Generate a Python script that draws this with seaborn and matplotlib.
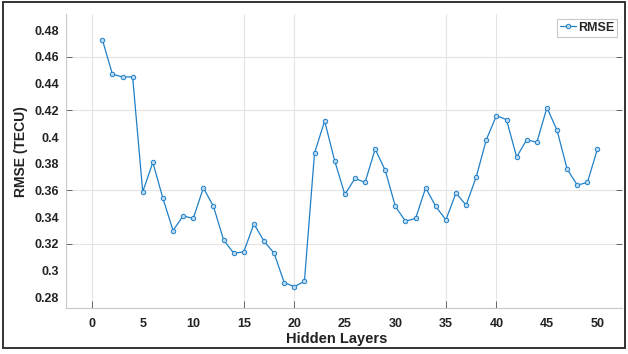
import numpy as np
import pandas as pd
import matplotlib
matplotlib.use("Agg")
import matplotlib.pyplot as plt
import seaborn as sns
from matplotlib.patches import Rectangle
from matplotlib.ticker import FixedLocator

# values
hidden_layers = list(range(1, 51))
rmse = [0.473, 0.447, 0.445, 0.445, 0.359, 0.381, 0.354, 0.330, 0.341, 0.339,
        0.362, 0.348, 0.323, 0.313, 0.314, 0.335, 0.322, 0.313, 0.291, 0.288,
        0.292, 0.388, 0.412, 0.382, 0.357, 0.369, 0.366, 0.391, 0.375, 0.348,
        0.337, 0.339, 0.362, 0.348, 0.338, 0.358, 0.349, 0.370, 0.398, 0.416,
        0.413, 0.385, 0.398, 0.396, 0.422, 0.405, 0.376, 0.364, 0.366, 0.391]
x_ticks = list(range(0, 51, 5))
y_ticks = [0.28, 0.30, 0.32, 0.34, 0.36, 0.38, 0.40, 0.42, 0.44, 0.46, 0.48]
y_tick_labels = ["0.28", "0.3", "0.32", "0.34", "0.36", "0.38", "0.4", "0.42", "0.44", "0.46", "0.48"]
# only some grid lines survive in the reference image
x_grid = [0, 15, 20, 35, 40]
y_grid = [0.32, 0.36, 0.42, 0.46]

df = pd.DataFrame({"Hidden Layers": hidden_layers, "RMSE": rmse})

sns.set_style("white")
plt.rcParams["font.family"] = ["Liberation Sans", "DejaVu Sans"]
plt.rcParams["font.weight"] = "bold"

fig = plt.figure(figsize=(6.28, 3.54), dpi=100)
ax = fig.add_axes([0.105, 0.130, 0.885, 0.830])

blue = "#1f80c8"
sns.lineplot(data=df, x="Hidden Layers", y="RMSE", ax=ax, color=blue, lw=0.9,
             marker="o", markersize=3.2, markerfacecolor="#bcd9ef",
             markeredgecolor=blue, markeredgewidth=0.7, label="RMSE")

ax.set_xlim(-2.6, 52.4)
ax.set_ylim(0.272, 0.492)
ax.set_xticks(x_ticks)
ax.set_yticks(y_ticks)
ax.set_yticklabels(y_tick_labels)
ax.xaxis.remove_overlapping_locs = False
ax.yaxis.remove_overlapping_locs = False
ax.xaxis.set_minor_locator(FixedLocator(x_grid))
ax.yaxis.set_minor_locator(FixedLocator(y_grid))
ax.tick_params(axis="both", which="major", length=0, labelsize=9, colors="#222222")
ax.tick_params(axis="y", which="major", pad=5)
ax.tick_params(axis="x", which="major", pad=7)
ax.tick_params(axis="both", which="minor", length=4, width=0.7, color="#666666",
               direction="in", right=True, top=False, left=True, bottom=True)
ax.tick_params(axis="x", which="minor", length=5)
ax.grid(which="minor", color="#e4e4e4", lw=0.8)
for lab in ax.get_xticklabels() + ax.get_yticklabels():
    lab.set_fontweight("bold")

for side in ["left", "bottom"]:
    ax.spines[side].set_color("#c8c8c8")
    ax.spines[side].set_linewidth(0.8)
ax.spines["top"].set_visible(False)
ax.spines["right"].set_visible(False)

ax.set_xlabel("Hidden Layers", fontsize=10.5, fontweight="bold", color="#222222")
ax.set_ylabel("RMSE (TECU)", fontsize=10, fontweight="bold", color="#222222")
ax.xaxis.set_label_coords(0.487, -0.082)
ax.yaxis.set_label_coords(-0.068, 0.534)

leg = ax.legend(loc="upper right", bbox_to_anchor=(0.992, 0.985), fontsize=9,
                frameon=True, fancybox=False, borderpad=0.25, handlelength=1.3,
                handletextpad=0.15, borderaxespad=0.0)
leg.get_frame().set_edgecolor("#bbbbbb")
leg.get_frame().set_linewidth(0.8)
for t in leg.get_texts():
    t.set_fontweight("bold")

fig.patches.append(Rectangle((0.004, 0.016), 0.992, 0.978, transform=fig.transFigure,
                             fill=False, edgecolor="#333333", lw=1.4))

fig.savefig("out.png", dpi=100)
